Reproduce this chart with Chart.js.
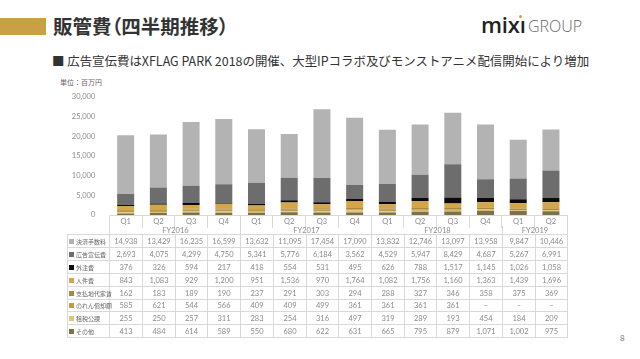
<!DOCTYPE html>
<html><head><meta charset="utf-8">
<script src="https://cdn.jsdelivr.net/npm/chart.js@4"></script>
<style>
html,body{margin:0;padding:0;background:#fff;width:640px;height:359px;overflow:hidden;position:relative;font-family:"Noto Sans CJK JP",sans-serif;}
.abs{position:absolute;white-space:nowrap;}
#bar{left:0;top:18px;width:46px;height:17px;background:#c9a046;}
#title{left:53px;top:13px;font-size:19.5px;line-height:26px;font-weight:bold;color:#333;font-feature-settings:"palt";}
#logo1{left:481px;top:9px;font-family:"Open Sans",sans-serif;font-weight:600;font-size:22px;line-height:30px;color:#222;letter-spacing:-0.2px;}
#dot{left:519px;top:15px;width:3px;height:3px;border-radius:50%;background:#c9a046;}
#logo2{left:528px;top:14px;font-family:"Open Sans",sans-serif;font-weight:300;font-size:16px;line-height:24px;color:#666;}
#sub{left:52px;top:53px;font-size:12.45px;line-height:16px;color:#333;}
#unit{left:60px;top:77px;font-size:7px;line-height:10px;color:#666;}
#page{left:620px;top:332px;font-size:8px;line-height:12px;color:#777;font-family:Lato,sans-serif;}
#wrap{position:absolute;left:0;top:85px;width:640px;height:145px;}
.cell{position:absolute;box-sizing:border-box;border-right:1px solid #d9d9d9;border-bottom:1px solid #d9d9d9;font-family:Lato,"Noto Sans CJK JP",sans-serif;font-size:7.5px;color:#8a8a8a;text-align:center;overflow:visible;white-space:nowrap;}
.lab{text-align:left;font-family:"Noto Sans CJK JP",sans-serif;font-size:6px;color:#666;border-left:1px solid #d9d9d9;}
.sq{display:inline-block;width:5px;height:5px;margin:0 2px 0 1px;vertical-align:middle;position:relative;top:-1px;}
.fy{position:absolute;box-sizing:border-box;border-left:1px solid #d9d9d9;font-family:Lato,sans-serif;font-size:7.5px;color:#8a8a8a;text-align:center;}
</style></head>
<body>
<div id="bar" class="abs"></div>
<div id="title" class="abs">販管費（四半期推移）</div>
<div id="logo1" class="abs">mixı</div>
<div id="dot" class="abs"></div>
<div id="logo2" class="abs">GROUP</div>
<div id="sub" class="abs">■ 広告宣伝費はXFLAG PARK 2018の開催、大型IPコラボ及びモンストアニメ配信開始により増加</div>
<div id="unit" class="abs">単位：百万円</div>
<div id="page" class="abs">8</div>
<div id="wrap"><canvas id="c" width="640" height="145"></canvas></div>
<div id="table"></div>
<script>
// ---- data ----
const quarters = ['Q1','Q2','Q3','Q4','Q1','Q2','Q3','Q4','Q1','Q2','Q3','Q4','Q1','Q2'];
const fiscalYears = ['FY2016','FY2017','FY2018','FY2019'];
const fyQuarterCounts = [4,4,4,2];
const yTicks = [0,5000,10000,15000,20000,25000,30000];

const seriesNames = ['決済手数料','広告宣伝費','外注費','人件費','支払地代家賃','のれん償却額','租税公課','その他'];
const paymentFees   = [14938,13429,16235,16599,13632,11095,17454,17090,13832,12746,13097,13958,9847,10446];
const advertising   = [2693,4075,4299,4750,5341,5776,6184,3562,4529,5947,8429,4687,5267,6991];
const outsourcing   = [376,326,594,217,418,554,531,495,626,788,1517,1145,1026,1058];
const personnel     = [843,1083,929,1200,951,1536,970,1764,1082,1756,1160,1363,1439,1696];
const rent          = [162,183,189,190,237,291,303,294,288,327,346,358,375,369];
const goodwill      = [585,621,544,566,409,409,499,361,361,361,361,null,null,null];
const taxes         = [255,250,257,311,283,254,316,497,319,289,193,454,184,209];
const other         = [413,484,614,589,550,680,622,631,665,795,879,1071,1002,975];

const seriesValues = [paymentFees,advertising,outsourcing,personnel,rent,goodwill,taxes,other];
const seriesColors = ['#b3b3b3','#6d6d6d','#0a0a0a','#d4a64c','#a8893f','#c49a3e','#e3c27a','#7b7249'];

const fmt = v => v.toLocaleString('en-US');

function build() {
  const datasets = [];
  for (let i = seriesNames.length - 1; i >= 0; i--) {
    datasets.push({label: seriesNames[i], data: seriesValues[i], backgroundColor: seriesColors[i],
      borderWidth: 0, categoryPercentage: 1, barPercentage: 0.52});
  }
  const tickFont = {family: "Lato, 'Noto Sans', sans-serif", size: 7.5};
  const chart = new Chart(document.getElementById('c'), {
    type: 'bar',
    data: {labels: quarters, datasets},
    options: {
      responsive: false, animation: false, devicePixelRatio: 1,
      layout: {padding: {left: 0, right: 72.7, top: 12, bottom: 0}},
      plugins: {legend: {display: false}, tooltip: {enabled: false}},
      scales: {
        x: {stacked: true, offset: true,
          grid: {offset: true, drawOnChartArea: false, drawTicks: true, tickLength: 13, color: '#d9d9d9'},
          border: {display: true, color: '#d9d9d9'},
          ticks: {padding: -11, color: '#8a8a8a', font: tickFont, maxRotation: 0, autoSkip: false},
          afterFit: s => { s.height = 15; }
        },
        y: {stacked: true, min: 0, max: 30000,
          afterBuildTicks: s => { s.ticks = yTicks.map(v => ({value: v})); },
          grid: {display: false}, border: {display: false},
          ticks: {color: '#8a8a8a', padding: 6, font: tickFont, callback: v => fmt(v)},
          afterFit: s => { s.width = 109.3; }
        }
      }
    }
  });

  // ---- table below the axis, positioned from the x scale ----
  const xs = chart.scales.x;
  const colW = (xs.right - xs.left) / quarters.length;
  const edge = i => Math.round(xs.left + i * colW);
  const tbl = document.getElementById('table');
  let idx = 0;
  fiscalYears.forEach((fy, g) => {
    const l = edge(idx), r = edge(idx + fyQuarterCounts[g]);
    const d = document.createElement('div');
    d.className = 'fy';
    d.style.left = l + 'px'; d.style.width = (r - l + 1) + 'px';
    d.style.top = '226px'; d.style.height = '9px'; d.style.lineHeight = '10px';
    if (g === fiscalYears.length - 1) d.style.borderRight = '1px solid #d9d9d9';
    d.textContent = fy;
    tbl.appendChild(d);
    idx += fyQuarterCounts[g];
  });
  const rowTop = 235, rowH = 12.9, labL = 67;
  const tl = document.createElement('div');
  tl.style.cssText = 'position:absolute;height:1px;background:#d9d9d9;left:' + labL + 'px;top:' + (rowTop - 1) + 'px;width:' + (edge(quarters.length) - labL + 1) + 'px';
  tbl.appendChild(tl);
  seriesNames.forEach((name, r) => {
    const t = Math.round(rowTop + r * rowH), b = Math.round(rowTop + (r + 1) * rowH);
    const lc = document.createElement('div');
    lc.className = 'cell lab';
    lc.style.left = labL + 'px'; lc.style.width = (edge(0) - labL + 1) + 'px';
    lc.style.top = t + 'px'; lc.style.height = (b - t) + 'px'; lc.style.lineHeight = (b - t) + 'px';
    lc.innerHTML = '<span class="sq" style="background:' + seriesColors[r] + '"></span>' + name;
    tbl.appendChild(lc);
    seriesValues[r].forEach((v, i) => {
      const c = document.createElement('div');
      c.className = 'cell';
      const l = edge(i), rr = edge(i + 1);
      c.style.left = (l + 1) + 'px'; c.style.width = (rr - l) + 'px';
      c.style.top = t + 'px'; c.style.height = (b - t) + 'px'; c.style.lineHeight = (b - t) + 'px';
      c.textContent = v === null ? '–' : fmt(v);
      tbl.appendChild(c);
    });
  });
}
if (document.fonts && document.fonts.load) {
  Promise.all([document.fonts.load("7.5px Lato"), document.fonts.load("7px 'Noto Sans CJK JP'")]).then(build, build);
} else { build(); }
</script>
</body></html>
